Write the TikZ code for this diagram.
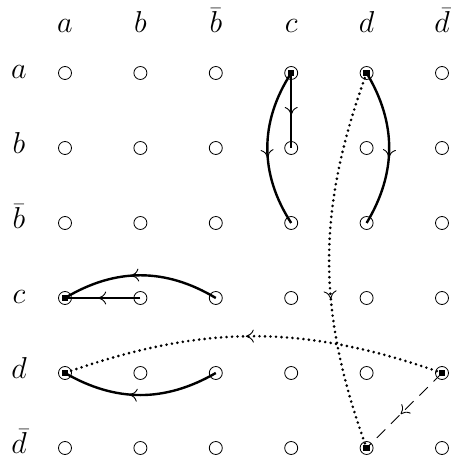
\documentclass[tikz,border=0pt]{standalone}
\usetikzlibrary{arrows.meta,decorations.markings}
\begin{document}
\begin{tikzpicture}[x=1pt,y=1pt,
  dot/.style={circle,draw,line width=0.8pt,minimum size=13pt,inner sep=0pt},
  lbl/.style={inner sep=0pt,anchor=base,font=\LARGE},
  sq/.style={rectangle,fill=black,minimum size=6.5pt,inner sep=0pt},
  solidedge/.style={line width=2.4pt},
  dottededge/.style={line width=2.9pt,line cap=round,dash pattern=on 0pt off 5.5pt},
  dashededge/.style={line width=0.9pt,dash pattern=on 12pt off 8pt},
  midarrow/.style={postaction={decorate},decoration={markings,
    mark=at position #1 with {\arrow[line width=0.9pt,solid,line cap=butt]{Computer Modern Rightarrow[length=8pt,width=13pt]}}}}
]
\useasboundingbox (0,0) rectangle (450,463);
% grid of circles
\foreach \r/\y in {a/390,b/315,bb/240,c/165,d/90,dd/15}{
  \foreach \c/\x in {a/65,b/140.4,bb/215.8,c/291.2,d/366.6,dd/442}{
    \node[dot] (n-\r-\c) at (\x,\y) {};
  }
}
% column headers
\node[lbl] (h-a) at (65,430) {\scalebox{1.75}{$a$}};
\node[lbl] (h-b) at (140.4,430) {\scalebox{1.75}{$b$}};
\node[lbl] (h-bb) at (215.8,430) {\scalebox{1.75}{$\bar b$}};
\node[lbl] (h-c) at (291.2,430) {\scalebox{1.75}{$c$}};
\node[lbl] (h-d) at (366.6,430) {\scalebox{1.75}{$d$}};
\node[lbl] (h-dd) at (442,430) {\scalebox{1.75}{$\bar d$}};
% row labels
\node[lbl] (r-a) at (19,384) {\scalebox{1.75}{$a$}};
\node[lbl] (r-b) at (19,309) {\scalebox{1.75}{$b$}};
\node[lbl] (r-bb) at (19,234) {\scalebox{1.75}{$\bar b$}};
\node[lbl] (r-c) at (19,159) {\scalebox{1.75}{$c$}};
\node[lbl] (r-d) at (19,84) {\scalebox{1.75}{$d$}};
\node[lbl] (r-dd) at (19,9) {\scalebox{1.75}{$\bar d$}};
% solid edges
\draw[solidedge,midarrow=0.56] (n-a-c.center) -- (n-b-c.center);
\draw[solidedge,midarrow=0.56] (n-a-c.center) to[bend right=33] (n-bb-c.center);
\draw[solidedge,midarrow=0.56] (n-a-d.center) to[bend left=31] (n-bb-d.center);
\draw[solidedge,midarrow=0.56] (n-c-b.center) -- (n-c-a.center);
\draw[solidedge,midarrow=0.56] (n-c-bb.center) to[bend right=31] (n-c-a.center);
\draw[solidedge,midarrow=0.57] (n-d-bb.center) to[bend left=30] (n-d-a.center);
% dotted edges
\draw[dottededge,midarrow=0.6] (n-a-d.center) to[bend right=20] (n-dd-d.center);
\draw[dottededge,midarrow=0.52] (n-d-dd.center) to[bend right=19.5] (n-d-a.center);
% dashed edge
\draw[dashededge,midarrow=0.55] (n-d-dd.center) -- (n-dd-d.center);
% squares
\foreach \n in {n-a-c,n-a-d,n-c-a,n-d-a,n-d-dd,n-dd-d}{
  \node[sq] at (\n.center) {};
}
\end{tikzpicture}
\end{document}
